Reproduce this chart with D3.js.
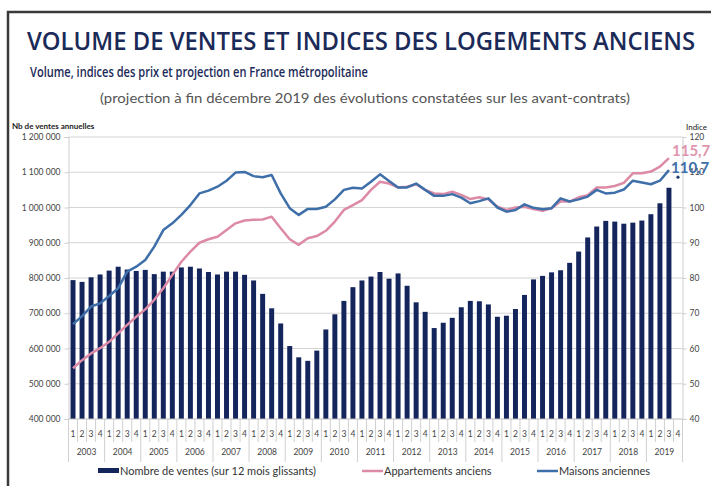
<!DOCTYPE html>
<html>
<head>
<meta charset="utf-8">
<script src="https://cdn.jsdelivr.net/npm/d3@7"></script>
<style>
  body { margin: 0; background: #fff; }
  svg { display: block; font-family: Lato, "Open Sans", sans-serif; }
</style>
</head>
<body>
<div id="chart"></div>
<script>
var years = ['2003','2004','2005','2006','2007','2008','2009','2010','2011','2012','2013','2014','2015','2016','2017','2018','2019'];
var quarterNames = ['1','2','3','4'];

// nombre de ventes sur 12 mois glissants (milliers)
var ventes = [794,789,802,810, 821,832,824,820, 823,811,818,818, 830,832,827,817,
  810,818,818,809, 793,755,714,671, 607,575,565,594, 654,697,735,774,
  793,804,817,798, 813,778,731,704, 658,673,687,717, 735,734,725,690,
  693,712,752,796, 806,816,822,843, 875,915,946,962, 960,954,957,963,
  981,1012,1056,null];

var appartements = [54.4,56.7,58.6,60.1, 61.9,64.3,66.7,69.0, 71.1,73.8,77.1,80.9, 84.6,87.5,90.0,91.0,
  91.7,93.6,95.5,96.3, 96.5,96.6,97.4,94.1, 91.0,89.4,91.3,91.9, 93.4,96.0,99.3,100.7,
  102.1,105.0,107.3,106.8, 105.7,105.9,106.6,105.0, 104.0,103.8,104.5,103.6, 102.4,102.9,102.3,100.2,
  99.3,100.0,100.2,99.6, 99.1,99.8,101.8,101.7, 102.9,103.5,105.7,105.7, 106.1,107.0,109.7,109.7,
  110.2,111.6,114.0,null];

var maisons = [66.9,69.2,71.9,72.8, 74.9,77.1,81.8,83.2, 85.1,88.9,93.6,95.5, 97.9,100.7,104.0,104.8,
  105.9,107.6,109.9,110.1, 108.9,108.6,109.2,104.0, 99.8,97.9,99.6,99.6, 100.2,102.3,105.0,105.6,
  105.4,107.3,109.4,107.5, 105.7,105.7,106.8,105.0, 103.3,103.3,103.8,102.8, 101.2,101.8,102.6,100.0,
  98.8,99.3,100.9,99.9, 99.5,99.8,102.6,101.7, 102.3,103.1,105.0,104.0, 104.2,105.1,107.6,107.1,
  106.6,107.6,110.6,null];

// projection fin 2019
var projectionLabels = ['115,7', '110,7'];
var projectionValues = [115.7, 110.7];

var leftTicks = [400000,500000,600000,700000,800000,900000,1000000,1100000,1200000];
var rightTicks = [40,50,60,70,80,90,100,110,120];

var navy = '#1b2a58', barColor = '#14255c', pink = '#dc8aa6', blue = '#3e6fa9';

var width = 711, height = 486;
var plotL = 68.5, plotR = 682.5, plotT = 137, plotB = 419;

var quarters = [];
years.forEach(function(y){ quarterNames.forEach(function(q){ quarters.push({year: y, q: q}); }); });
var idx = d3.range(quarters.length);

var svg = d3.select('#chart').append('svg')
  .attr('width', width).attr('height', height);

// cadre
svg.append('path').attr('d', 'M8,' + height + 'V12H' + width)
  .attr('fill', 'none').attr('stroke', '#3a3a3a').attr('stroke-width', 2.5);

svg.append('text').attr('x', 27).attr('y', 50)
  .attr('textLength', 668).attr('lengthAdjust', 'spacingAndGlyphs')
  .attr('font-family', '"Open Sans", Lato, sans-serif')
  .attr('font-size', 26).attr('font-weight', 600).attr('fill', navy)
  .text('VOLUME DE VENTES ET INDICES DES LOGEMENTS ANCIENS');
svg.append('text').attr('x', 30).attr('y', 77)
  .attr('textLength', 338).attr('lengthAdjust', 'spacingAndGlyphs')
  .attr('font-family', '"Open Sans", Lato, sans-serif')
  .attr('font-size', 15).attr('font-weight', 600).attr('fill', navy)
  .text('Volume, indices des prix et projection en France métropolitaine');
svg.append('text').attr('x', 100).attr('y', 103)
  .attr('textLength', 530).attr('lengthAdjust', 'spacingAndGlyphs')
  .attr('font-size', 13).attr('fill', '#555')
  .text('(projection à fin décembre 2019 des évolutions constatées sur les avant-contrats)');

svg.append('text').attr('x', 12).attr('y', 129).attr('font-size', 8).attr('font-weight', 700)
  .attr('fill', '#222').text('Nb de ventes annuelles');
svg.append('text').attr('x', 686).attr('y', 130).attr('font-size', 8)
  .attr('fill', '#222').text('Indice');

var x = d3.scaleBand().domain(idx).range([plotL, plotR]).paddingInner(0.45).paddingOuter(0.225);
var step = x.step();
var yL = d3.scaleLinear().domain([400000, 1200000]).range([plotB, plotT]);
var yR = d3.scaleLinear().domain([40, 120]).range([plotB, plotT]);

var fr = d3.formatLocale({decimal: ',', thousands: ' ', grouping: [3], currency: ['', ' €']});

// grille
svg.append('g').selectAll('line').data(leftTicks.slice(1)).enter().append('line')
  .attr('x1', plotL).attr('x2', plotR)
  .attr('y1', function(d){ return yL(d); }).attr('y2', function(d){ return yL(d); })
  .attr('stroke', '#d4d4d4').attr('stroke-width', 1.2);

var axL = svg.append('g').attr('transform', 'translate(' + plotL + ',0)')
  .call(d3.axisLeft(yL).tickValues(leftTicks).tickFormat(fr.format(',d')).tickSize(4).tickPadding(4));
var axR = svg.append('g').attr('transform', 'translate(' + plotR + ',0)')
  .call(d3.axisRight(yR).tickValues(rightTicks).tickSize(4).tickPadding(3));
[axL, axR].forEach(function(a){
  a.select('.domain').attr('stroke', '#cfcfcf');
  a.selectAll('.tick line').attr('stroke', '#cfcfcf');
  a.selectAll('.tick text').attr('font-size', 8.5).attr('fill', '#444').attr('font-family', 'Lato, sans-serif');
});

// barres
svg.append('g').selectAll('rect').data(idx.filter(function(i){ return ventes[i] != null; }))
  .enter().append('rect')
  .attr('x', function(i){ return x(i); })
  .attr('width', x.bandwidth())
  .attr('y', function(i){ return yL(ventes[i] * 1000); })
  .attr('height', function(i){ return plotB - yL(ventes[i] * 1000); })
  .attr('fill', barColor);

// axe des x
svg.append('line').attr('x1', plotL).attr('x2', plotR).attr('y1', plotB).attr('y2', plotB)
  .attr('stroke', '#bdbdbd');
var sep = svg.append('g');
d3.range(quarters.length + 1).forEach(function(k){
  var xx = plotL + k * step;
  sep.append('line').attr('x1', xx).attr('x2', xx).attr('y1', plotB)
    .attr('y2', k % 4 === 0 ? 462 : 442).attr('stroke', '#d0d0d0');
});
svg.append('g').selectAll('text').data(idx).enter().append('text')
  .attr('x', function(i){ return x(i) + x.bandwidth() / 2; })
  .attr('y', 437).attr('text-anchor', 'middle').attr('font-size', 8.5).attr('fill', '#444')
  .text(function(i){ return quarters[i].q; });
svg.append('g').selectAll('text').data(years).enter().append('text')
  .attr('x', function(d, j){ return plotL + (j * 4 + 2) * step; })
  .attr('y', 455).attr('text-anchor', 'middle').attr('font-size', 8.5).attr('fill', '#444')
  .text(function(d){ return d; });

// courbes
var line = function(vals){
  return d3.line().defined(function(i){ return vals[i] != null; })
    .x(function(i){ return x(i) + x.bandwidth() / 2; })
    .y(function(i){ return yR(vals[i]); })(idx);
};
svg.append('path').attr('d', line(appartements)).attr('fill', 'none')
  .attr('stroke', pink).attr('stroke-width', 2.5).attr('stroke-linejoin', 'round');
svg.append('path').attr('d', line(maisons)).attr('fill', 'none')
  .attr('stroke', blue).attr('stroke-width', 2.5).attr('stroke-linejoin', 'round');

// projections
svg.append('text').attr('x', 672).attr('y', yR(projectionValues[0]) + 4)
  .attr('font-size', 15).attr('font-weight', 700).attr('fill', pink).attr('opacity', 0.9)
  .text(projectionLabels[0]);
svg.append('text').attr('x', 671).attr('y', yR(projectionValues[1]) + 3)
  .attr('font-size', 15).attr('font-weight', 700).attr('fill', blue)
  .text(projectionLabels[1]);
svg.append('circle').attr('cx', x(67) + x.bandwidth() / 2).attr('cy', yR(108.6)).attr('r', 1.6)
  .attr('fill', '#1f3d6e');

// légende
var lg = svg.append('g').attr('font-size', 11).attr('fill', '#333');
lg.append('rect').attr('x', 98).attr('y', 468).attr('width', 21).attr('height', 5).attr('fill', barColor);
lg.append('text').attr('x', 120).attr('y', 475).attr('fill', '#333').text('Nombre de ventes (sur 12 mois glissants)');
lg.append('line').attr('x1', 362).attr('x2', 383).attr('y1', 471).attr('y2', 471).attr('stroke', pink).attr('stroke-width', 2.5);
lg.append('text').attr('x', 384).attr('y', 475).attr('fill', '#333').text('Appartements anciens');
lg.append('line').attr('x1', 537).attr('x2', 558).attr('y1', 471).attr('y2', 471).attr('stroke', blue).attr('stroke-width', 2.5);
lg.append('text').attr('x', 559).attr('y', 475).attr('fill', '#333').text('Maisons anciennes');
</script>
</body>
</html>
